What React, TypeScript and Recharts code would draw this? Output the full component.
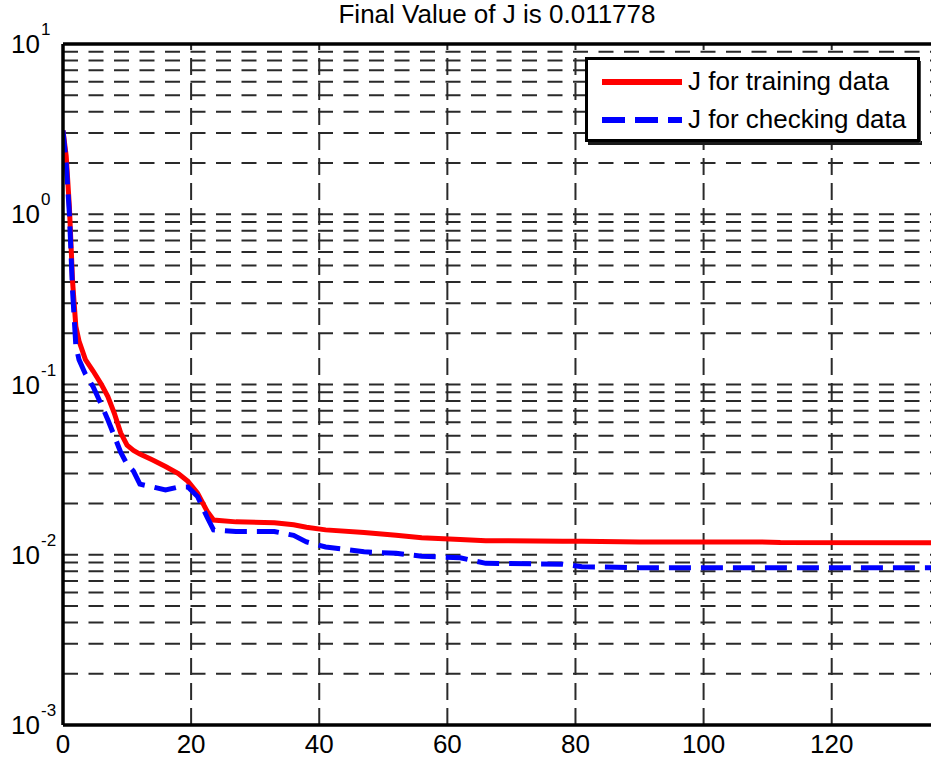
import React from 'react';
import { LineChart, Line, XAxis, YAxis, ReferenceLine, Legend } from 'recharts';

const epochs = [0, 0.5, 1, 1.5, 2, 2.5, 3.5, 4.7, 6, 7, 8, 9, 10, 11, 12, 14, 16, 18, 19.5, 21, 22.5, 23.5, 27, 33, 36, 38, 41, 47, 52, 56, 62, 66, 78, 81, 90, 97, 108, 112, 135.5];
const trainingJ = [3.1, 2.2, 1.1, 0.4, 0.22, 0.18, 0.14, 0.12, 0.1, 0.085, 0.068, 0.052, 0.044, 0.041, 0.039, 0.036, 0.033, 0.03, 0.027, 0.023, 0.018, 0.016, 0.0156, 0.0154, 0.015, 0.0145, 0.014, 0.0135, 0.013, 0.0126, 0.0123, 0.0121, 0.012, 0.012, 0.0119, 0.0119, 0.0119, 0.0118, 0.01178];
const checkingJ = [3.1, 2.0, 1.0, 0.35, 0.17, 0.14, 0.115, 0.097, 0.076, 0.062, 0.05, 0.04, 0.034, 0.031, 0.026, 0.025, 0.024, 0.025, 0.025, 0.022, 0.0166, 0.014, 0.0137, 0.0137, 0.013, 0.0119, 0.0111, 0.0104, 0.0102, 0.0098, 0.0096, 0.0089, 0.0088, 0.0085, 0.0084, 0.0084, 0.0084, 0.0084, 0.0084];

const seriesNames = ['J for training data', 'J for checking data'];
const titleText = 'Final Value of J is 0.011778';

const xTicks = [0, 20, 40, 60, 80, 100, 120];
const xGridValues = [20, 40, 60, 80, 100, 120];
const yTicks = [0.001, 0.01, 0.1, 1, 10];
const yTickExponents = ['-3', '-2', '-1', '0', '1'];
const gridDecades = [0.001, 0.01, 0.1, 1];
const gridMultipliers = [1, 2, 3, 4, 5, 6, 7, 8, 9];

const data = epochs.map((e, i) => ({ epoch: e, train: trainingJ[i], check: checkingJ[i] }));

const yGridValues: number[] = [];
gridDecades.forEach((d) => {
  gridMultipliers.forEach((m) => {
    const v = d * m;
    if (v > 0.0011) yGridValues.push(v);
  });
});

const FONT = '"Liberation Sans", Arial, Helvetica, sans-serif';
const GRID = '#2a2a2a';

const YTick = (props: any) => {
  const { y, payload } = props;
  const i = yTicks.indexOf(payload.value);
  const exp = i >= 0 ? yTickExponents[i] : String(Math.round(Math.log10(payload.value)));
  return (
    <g>
      <text x={40} y={y + 9} textAnchor="end" fontSize={26} fontFamily={FONT} fill="#000">10</text>
      <text x={41} y={y - 9} textAnchor="start" fontSize={17} fontFamily={FONT} fill="#000">{exp}</text>
    </g>
  );
};

const XTick = (props: any) => {
  const { x, payload } = props;
  return (
    <text x={x} y={753} textAnchor="middle" fontSize={26} fontFamily={FONT} fill="#000">
      {payload.value}
    </text>
  );
};

const LegendContent = (props: any) => {
  const payload = [...(props.payload || [])].sort(
    (a: any, b: any) => seriesNames.indexOf(a.value) - seriesNames.indexOf(b.value)
  );
  return (
    <svg width={342} height={94} style={{ display: 'block' }}>
      <line x1={5} y1={88} x2={339} y2={88} stroke="#1a1a1a" strokeWidth={4} />
      <line x1={337} y1={6} x2={337} y2={88} stroke="#444" strokeWidth={2} />
      <rect x={3.5} y={3.5} width={332} height={82} fill="#fff" stroke="#000" strokeWidth={3} />
      {payload.map((entry: any, idx: number) => {
        const cy = 27 + idx * 38;
        const dash = entry.payload && entry.payload.strokeDasharray ? '23 10' : undefined;
        return (
          <g key={idx}>
            <line x1={19} y1={cy} x2={99} y2={cy} stroke={entry.color} strokeWidth={6} strokeDasharray={dash} />
            <text x={105} y={cy + 8} fontSize={26} fontFamily={FONT} fill="#000">{entry.value}</text>
          </g>
        );
      })}
    </svg>
  );
};

export default function App() {
  return (
    <div style={{ position: 'absolute', left: 0, top: 0, width: 931, height: 764, background: '#fff' }}>
      <div style={{ position: 'absolute', left: 0, top: 0, width: 931 }}>
        <svg width={931} height={40} style={{ display: 'block' }}>
          <text x={497} y={23} textAnchor="middle" fontSize={26} fontFamily={FONT} fill="#000">{titleText}</text>
        </svg>
      </div>
      <div style={{ position: 'absolute', left: 0, top: 0 }}>
        <LineChart width={931} height={764} data={data} margin={{ top: 44, right: 0, bottom: 0, left: 0 }}>
          <XAxis
            dataKey="epoch"
            type="number"
            domain={[0, 135.5]}
            ticks={xTicks}
            allowDataOverflow
            height={39}
            tickLine={false}
            axisLine={{ stroke: '#000', strokeWidth: 3.5 }}
            tick={<XTick />}
          />
          <YAxis
            type="number"
            scale="log"
            domain={[0.001, 10]}
            ticks={yTicks}
            allowDataOverflow
            width={63}
            tickLine={false}
            axisLine={{ stroke: '#000', strokeWidth: 3.5 }}
            tick={<YTick />}
          />
          {yGridValues.map((v) => (
            <ReferenceLine key={'h' + v} y={v} stroke={GRID} strokeWidth={2} strokeDasharray="15 10.5" ifOverflow="visible" />
          ))}
          {xGridValues.map((v) => (
            <ReferenceLine key={'v' + v} x={v} stroke={GRID} strokeWidth={2} strokeDasharray="17 8" ifOverflow="visible" />
          ))}
          <ReferenceLine y={10} stroke="#000" strokeWidth={3.5} ifOverflow="visible" />
          <Line
            type="linear"
            dataKey="train"
            name={seriesNames[0]}
            stroke="#ff0000"
            strokeWidth={5}
            dot={false}
            activeDot={false}
            isAnimationActive={false}
          />
          <Line
            type="linear"
            dataKey="check"
            name={seriesNames[1]}
            stroke="#0000ff"
            strokeWidth={5}
            strokeDasharray="22 10"
            dot={false}
            activeDot={false}
            isAnimationActive={false}
          />
          <Legend
            layout="horizontal"
            verticalAlign="middle"
            align="center"
            content={<LegendContent />}
            wrapperStyle={{ position: 'absolute', left: 583, top: 55, width: 342, height: 94 }}
          />
        </LineChart>
      </div>
    </div>
  );
}
